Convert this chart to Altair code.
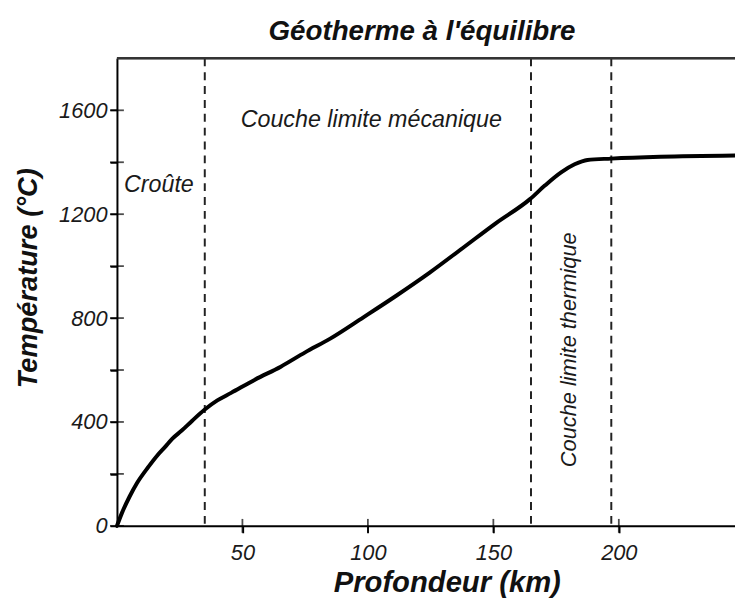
import altair as alt
import pandas as pd

# Geotherm curve (depth km, temperature °C)
depth_km = [0, 2, 5, 8, 12.6, 16, 19.2, 22, 25.7, 30, 35, 40, 45.5, 55, 65.3,
            75, 85, 98.2, 111.3, 124.5, 137.7, 150.8, 164.6, 170.5, 177, 182.4,
            187.5, 196.9, 216.6, 246.3]
temp_c = [0, 50, 112, 165, 228, 270, 304, 335, 366, 405, 448, 483, 512, 563,
          613, 668, 721, 803, 886, 974, 1069, 1164, 1258, 1310, 1361, 1392,
          1409, 1414, 1421, 1426]

# Boundaries (dashed lines)
boundary_km = [35, 165, 197]

# Annotations
label_text = ["Croûte", "Couche limite mécanique"]
label_km = [2.8, 49.3]
label_t = [1311, 1562]
vlabel_text = ["Couche limite thermique"]
vlabel_km = [180.2]
vlabel_t = [678]

y_ticks = [0, 200, 400, 600, 800, 1000, 1200, 1400, 1600]
x_ticks = [50, 100, 150, 200]

FONT = "Liberation Sans"
W, H = 624, 472
X_DOM = [0, 246.3]
Y_DOM = [0, 1800]

curve = pd.DataFrame({"km": depth_km, "T": temp_c})
bounds = pd.DataFrame({"km": boundary_km})
labels = pd.DataFrame({"km": label_km, "T": label_t, "txt": label_text})
vlabels = pd.DataFrame({"km": vlabel_km, "T": vlabel_t, "txt": vlabel_text})
yt = pd.DataFrame({"T": y_ticks})
xt = pd.DataFrame({"km": x_ticks})

xs = alt.Scale(domain=X_DOM, nice=False, zero=False)
ys = alt.Scale(domain=Y_DOM, nice=False)

line = alt.Chart(curve).mark_line(color="black", strokeWidth=4, strokeCap="round",
                                  interpolate="monotone").encode(
    x=alt.X("km:Q", scale=xs, axis=alt.Axis(
        values=x_ticks, title="Profondeur (km)", grid=False, format="d",
        titleX=333, titleY=57, titleBaseline="middle", titleAlign="center",
        titleFontSize=29.5, labelPadding=10)),
    y=alt.Y("T:Q", scale=ys, axis=alt.Axis(
        values=y_ticks, title="Température (°C)", grid=False, format="d",
        labelExpr="datum.value % 400 == 0 ? datum.label : ''",
        titleX=-89, titleY=221.5, titleAngle=270, titleAlign="center",
        titleBaseline="middle", titleFontSize=27.5, labelPadding=3)),
)

dashes = alt.Chart(bounds).mark_rule(color="#222222", strokeWidth=2, strokeDash=[8, 6]).encode(
    x=alt.X("km:Q", scale=xs)
)

top = alt.Chart(bounds).mark_rule(color="#333333", strokeWidth=2).encode(
    y=alt.datum(1800, scale=ys)
)

# ticks crossing the axes
yin = alt.Chart(yt).mark_tick(color="black", thickness=1.8, size=14, orient="horizontal").encode(
    y=alt.Y("T:Q", scale=ys), x=alt.datum(0, scale=xs)
)
xin = alt.Chart(xt).mark_tick(color="black", thickness=1.8, size=14, orient="vertical").encode(
    x=alt.X("km:Q", scale=xs), y=alt.datum(0, scale=ys)
)

txt = alt.Chart(labels).mark_text(
    font=FONT, fontSize=23.5, fontStyle="italic", align="left", baseline="middle", color="#1a1a1a"
).encode(x=alt.X("km:Q", scale=xs), y=alt.Y("T:Q", scale=ys), text="txt:N")

vtxt = alt.Chart(vlabels).mark_text(
    font=FONT, fontSize=22, fontStyle="italic", align="center", baseline="middle",
    angle=270, color="#1a1a1a"
).encode(x=alt.X("km:Q", scale=xs), y=alt.Y("T:Q", scale=ys), text="txt:N")

chart = alt.layer(dashes, top, line, txt, vtxt, yin, xin).properties(
    width=W, height=H,
    autosize=alt.AutoSizeParams(type="none"),
    padding={"left": 110, "top": 48, "right": 0, "bottom": 70},
    title=alt.TitleParams("Géotherme à l'équilibre", font=FONT, fontSize=28,
                          fontWeight="bold", fontStyle="italic", anchor="middle",
                          color="#111111", dx=-4, offset=12),
).configure_view(stroke=None).configure_axis(
    domainColor="black", domainWidth=2, tickColor="black", tickWidth=1.8, tickSize=7,
    labelFont=FONT, labelFontSize=22, labelFontStyle="italic", labelColor="#1a1a1a",
    titleFont=FONT, titleFontWeight="bold", titleFontStyle="italic",
    titleColor="#111111",
)

chart.save("out.html", embed_options={"renderer": "svg", "actions": False})
